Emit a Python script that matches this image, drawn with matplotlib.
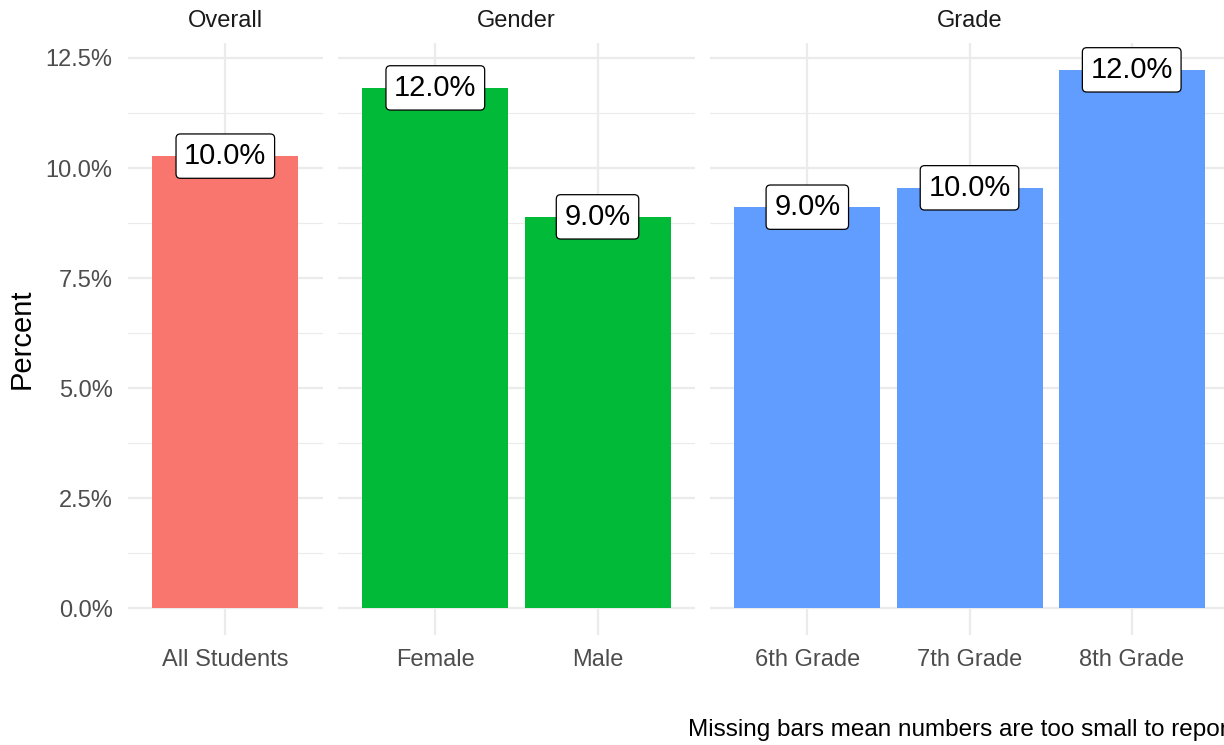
import numpy as np
import matplotlib
matplotlib.use('Agg')
import matplotlib.pyplot as plt
from matplotlib.ticker import MultipleLocator, FuncFormatter

plt.rcParams['font.family'] = ['Liberation Sans', 'DejaVu Sans']

# data
panels = ['Overall', 'Gender', 'Grade']
overall_cats = ['All Students']
gender_cats = ['Female', 'Male']
grade_cats = ['6th Grade', '7th Grade', '8th Grade']
overall_vals = [10.27]
gender_vals = [11.82, 8.89]
grade_vals = [9.11, 9.55, 12.23]
overall_labels = ['10.0%']
gender_labels = ['12.0%', '9.0%']
grade_labels = ['9.0%', '10.0%', '12.0%']
panel_colors = ['#F8766D', '#00BA38', '#619CFF']

panel_cats = [overall_cats, gender_cats, grade_cats]
panel_vals = [overall_vals, gender_vals, grade_vals]
panel_labels = [overall_labels, gender_labels, grade_labels]

W, H = 1224, 745
fig = plt.figure(figsize=(W / 100, H / 100), dpi=100)

# panel layout in pixels (panel 3 runs slightly past the right edge)
unit_px = 162.2
panel_left_px = [128, 338, 710]
bottom, top = 110 / H, 702 / H

for i, name in enumerate(panels):
    cats, vals, labs = panel_cats[i], panel_vals[i], panel_labels[i]
    n = len(cats)
    w = (n + 0.2) * unit_px / W
    x0 = panel_left_px[i] / W
    ax = fig.add_axes([x0, bottom, w, top - bottom])
    x = np.arange(n)
    ax.bar(x, vals, width=0.9, color=panel_colors[i], zorder=2)
    ax.set_xlim(-0.6, n - 0.4)
    ax.set_ylim(-0.61, 12.84)
    ax.set_yticks(np.arange(0, 12.6, 2.5))
    ax.yaxis.set_minor_locator(MultipleLocator(1.25))
    ax.set_axisbelow(True)
    ax.grid(axis='y', which='major', color='#EBEBEB', lw=1.6)
    ax.grid(axis='y', which='minor', color='#EBEBEB', lw=0.8)
    ax.grid(axis='x', which='major', color='#EBEBEB', lw=1.6)
    for s in ax.spines.values():
        s.set_visible(False)
    ax.tick_params(which='both', length=0)
    ax.tick_params(axis='x', pad=10)
    ax.tick_params(axis='y', pad=11)
    ax.set_xticks(x)
    ax.set_xticklabels(cats, fontsize=17, color='#4D4D4D')
    if i == 0:
        ax.yaxis.set_major_formatter(FuncFormatter(lambda v, p: '%.1f%%' % v))
        for t in ax.get_yticklabels():
            t.set_fontsize(17)
            t.set_color('#4D4D4D')
    else:
        ax.tick_params(axis='y', labelleft=False)

    for xi, v, lab in zip(x, vals, labs):
        ax.text(xi, v, lab, ha='center', va='center', fontsize=21, zorder=3,
                bbox=dict(boxstyle='round,pad=0.28,rounding_size=0.15',
                          fc='white', ec='black', lw=0.9))

    fig.text(x0 + w / 2, 1 - 21 / H, name, ha='center', va='center',
             fontsize=17, color='#1A1A1A')

fig.text(22 / W, 1 - 339 / H, 'Percent', rotation=90, ha='center',
         va='center', fontsize=21)
fig.text(688 / W, 1 - 730 / H, 'Missing bars mean numbers are too small to report',
         ha='left', va='center', fontsize=17.5)

fig.savefig('out.png', dpi=100)
